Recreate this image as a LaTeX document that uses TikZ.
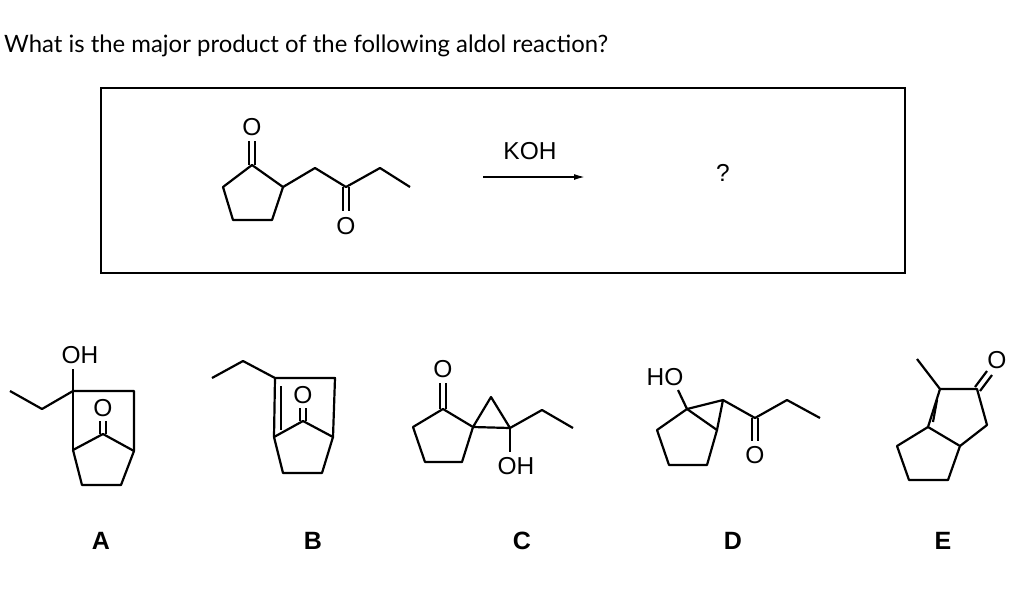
\documentclass[tikz,border=0pt]{standalone}
\usepackage{fontspec}
\setmainfont{Liberation Sans}
\newfontfamily\titlefont{Lato}
\usetikzlibrary{arrows.meta}
\begin{document}
\begin{tikzpicture}[x=1pt,y=-1pt,
  bond/.style={line width=2.2pt,line join=round},
  atom/.style={inner sep=0pt,font=\fontsize{24.5}{25}\selectfont},
  lbl/.style={inner sep=0pt,font=\fontsize{25}{25}\selectfont\bfseries}]
\useasboundingbox (0,0) rectangle (1024,598);
\node[anchor=west,inner sep=0pt,font=\titlefont\fontsize{23.9}{26}\selectfont] (title) at (4,46) {What is the major product of the following aldol reaction?};
\draw[line width=2.2pt] (101,88) rectangle (905,273);
% starting material
\draw[bond] (252,165)--(283,187)--(272,220)--(233,220)--(223,187)--cycle;
\draw[bond] (249,165)--(249,141) (255,165)--(255,141);
\node[atom] (o1) at (252,127) {O};
\draw[bond] (283,187)--(315,168)--(346,187)--(380,168)--(410,187);
\draw[bond] (343,187)--(343,211) (349,187)--(349,211);
\node[atom] (o2) at (346,226) {O};
% arrow
\node[atom] (koh) at (530,151) {KOH};
\coordinate (a1) at (483,177); \coordinate (a2) at (585,177);
\draw[line width=1.6pt,-{Latex[length=11pt,width=6pt]}] (a1)--(a2);
\node[atom] (q) at (723,173) {?};
% A
\node[atom] (ohA) at (80,355) {OH};
\draw[bond] (73,369)--(73,450);
\draw[bond] (10,391)--(42,409)--(73,391)--(134,391)--(134,451);
\draw[bond] (73,450)--(103,434)--(134,451)--(121,485)--(82,485)--(73,450);
\draw[bond] (100,434)--(100,421) (106,434)--(106,421);
\node[atom] (oA) at (103,408) {O};
\node[lbl] (A) at (101,541) {A};
% B
\draw[bond] (212,378)--(243,361)--(275,378)--(335,378)--(333,437);
\draw[bond] (275,378)--(274,437);
\draw[bond] (281,386)--(281,430);
\draw[bond] (274,437)--(303,421)--(333,437)--(322,473)--(283,473)--(274,437);
\draw[bond] (300,421)--(300,408) (306,421)--(306,408);
\node[atom] (oB) at (303,395) {O};
\node[lbl] (B) at (313,541) {B};
% C
\node[atom] (oC) at (443,369) {O};
\draw[bond] (440,409)--(440,383) (446,409)--(446,383);
\draw[bond] (443,409)--(473,427)--(462,462)--(425,462)--(413,427)--cycle;
\draw[bond] (473,427)--(491,397)--(510,428)--cycle;
\draw[bond] (510,428)--(542,410)--(573,428);
\draw[bond] (510,428)--(510,452);
\node[atom] (ohC) at (516,466) {OH};
\node[lbl] (C) at (522,541) {C};
% D
\node[atom] (hoD) at (665,377) {HO};
\draw[bond] (678,390)--(687,409);
\draw[bond] (687,409)--(717,430)--(707,465)--(669,465)--(657,430)--cycle;
\draw[bond] (687,409)--(723,400)--(717,430);
\draw[bond] (723,400)--(755,418)--(787,400)--(820,418);
\draw[bond] (752,418)--(752,441) (758,418)--(758,441);
\node[atom] (oD) at (755,455) {O};
\node[lbl] (D) at (733,541) {D};
% E
\draw[bond] (917,359)--(940,389);
\draw[bond] (940,389)--(977,389)--(987,425)--(960,446)--(928,427)--cycle;
\draw[bond] (937,400)--(933,422);
\draw[bond] (928,427)--(897,446)--(909,480)--(948,480)--(960,446);
\draw[bond] (975,387)--(987,371) (980,391)--(992,375);
\node[atom] (oE) at (997,360) {O};
\node[lbl] (E) at (943,541) {E};
\end{tikzpicture}
\end{document}
